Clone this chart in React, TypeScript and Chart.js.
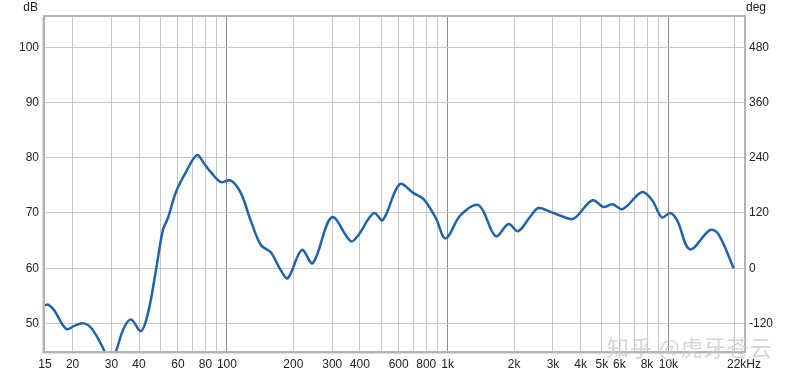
import React, { useEffect, useRef } from "react";
import { Chart, registerables } from "chart.js";

Chart.register(...registerables);

// Frequency response (Hz, dB)
const freqs = [15, 15.5, 16.5, 18.7, 20.5, 22.5, 24.5, 27.5, 29.5, 31.5, 34, 36.8, 40.8, 44, 47.7, 51.3, 54.1, 58.8, 65.2, 73.2, 78.7, 84.6, 93.9, 104, 115.7, 128, 142.5, 158, 175.6, 188.8, 218.5, 245, 298.7, 364, 391, 463, 508, 606, 700, 778, 883, 980, 1144, 1383, 1650, 1888, 2085, 2374, 2578, 2922, 3611, 3800, 4530, 5080, 5580, 6200, 7600, 8440, 9350, 10180, 10950, 12520, 15400, 16770, 19770];
const levels = [53.3, 53.4, 52.4, 49.0, 49.6, 50.0, 49.0, 45.5, 42.5, 45.0, 49.0, 50.7, 48.6, 52.0, 59.6, 66.9, 69.1, 73.8, 77.4, 80.5, 79.0, 77.4, 75.6, 75.9, 73.6, 68.7, 64.2, 62.9, 59.6, 58.2, 63.3, 60.9, 69.2, 64.9, 65.8, 70.0, 68.7, 75.2, 73.6, 72.5, 69.1, 65.4, 69.6, 71.4, 65.8, 68.0, 66.7, 69.4, 70.9, 70.2, 68.9, 69.2, 72.3, 71.1, 71.6, 70.7, 73.8, 72.3, 69.2, 70.0, 68.7, 63.4, 66.9, 66.3, 60.0];

const xTickValues = [15, 20, 30, 40, 50, 60, 70, 80, 90, 100, 200, 300, 400, 500, 600, 700, 800, 900, 1000, 2000, 3000, 4000, 5000, 6000, 7000, 8000, 9000, 10000, 20000, 22000];
const xTickLabels = ["15", "20", "30", "40", "", "60", "", "80", "", "100", "200", "300", "400", "", "600", "", "800", "", "1k", "2k", "3k", "4k", "5k", "6k", "", "8k", "", "10k", "", "22kHz"];
const majorFreqs = [100, 1000, 10000];
const dbTicks = [50, 60, 70, 80, 90, 100];
const degTicks = [-120, 0, 120, 240, 360, 480];

const DB_MIN = 45;
const DB_MAX = 105.5;
const toDeg = (db: number) => (db - 60) * 12;

const framePlugin = {
  id: "frame",
  afterDraw(chart: any) {
    const { ctx, chartArea } = chart;
    const { left, right, top, bottom } = chartArea;
    ctx.save();
    ctx.strokeStyle = "#b4b4b4";
    ctx.lineWidth = 2;
    ctx.strokeRect(left - 1, top - 1, right - left + 2, bottom - top + 2);
    ctx.strokeStyle = "#dcdcdc";
    ctx.lineWidth = 1;
    ctx.beginPath();
    ctx.moveTo(left - 2.5, top);
    ctx.lineTo(left - 2.5, bottom + 2.5);
    ctx.lineTo(right, bottom + 2.5);
    ctx.stroke();
    ctx.fillStyle = "#222";
    ctx.font = "12px 'Liberation Sans', Arial, sans-serif";
    ctx.textBaseline = "middle";
    ctx.textAlign = "right";
    ctx.fillText("dB", 38, 8);
    ctx.textAlign = "left";
    ctx.fillText("deg", 746, 8);
    ctx.restore();
  },
};

export default function App() {
  const ref = useRef<HTMLCanvasElement | null>(null);
  useEffect(() => {
    if (!ref.current) return;
    const data = freqs.map((f, i) => ({ x: f, y: levels[i] }));
    const chart = new Chart(ref.current, {
      type: "line",
      data: {
        datasets: [
          {
            data,
            borderColor: "#1f63a8",
            borderWidth: 2.5,
            pointRadius: 0,
            tension: 0.35,
            fill: false,
            yAxisID: "y",
          },
        ],
      },
      options: {
        animation: false,
        responsive: false,
        maintainAspectRatio: false,
        layout: { padding: { top: 17, left: 0, right: 0, bottom: 0 } },
        plugins: { legend: { display: false }, tooltip: { enabled: false } },
        scales: {
          x: {
            type: "logarithmic",
            min: 15,
            max: 22000,
            afterBuildTicks: (axis: any) => {
              axis.ticks = xTickValues.map((v) => ({ value: v }));
            },
            afterFit: (axis: any) => {
              axis.height = 26;
            },
            border: { display: false },
            grid: {
              color: (c: any) => {
                const v = c.tick ? c.tick.value : 0;
                if (v === 15 || v === 22000) return "rgba(0,0,0,0)";
                return majorFreqs.includes(v) ? "#8c8c8c" : "#c8c8c8";
              },
              lineWidth: 1,
              drawTicks: false,
            },
            ticks: {
              autoSkip: false,
              maxRotation: 0,
              minRotation: 0,
              padding: 6,
              color: "#222",
              font: { family: "'Liberation Sans', Arial, sans-serif", size: 12 },
              callback: (_v: any, i: number) => xTickLabels[i] ?? "",
            },
          },
          y: {
            position: "left",
            min: DB_MIN,
            max: DB_MAX,
            afterBuildTicks: (axis: any) => {
              axis.ticks = dbTicks.map((v) => ({ value: v }));
            },
            afterFit: (axis: any) => {
              axis.width = 45;
            },
            border: { display: false },
            grid: { color: "#c8c8c8", lineWidth: 1, drawTicks: false },
            ticks: {
              padding: 6,
              color: "#222",
              font: { family: "'Liberation Sans', Arial, sans-serif", size: 12 },
            },
          },
          y2: {
            position: "right",
            min: toDeg(DB_MIN),
            max: toDeg(DB_MAX),
            afterBuildTicks: (axis: any) => {
              axis.ticks = degTicks.map((v) => ({ value: v }));
            },
            afterFit: (axis: any) => {
              axis.width = 56;
            },
            border: { display: false },
            grid: { display: false, drawTicks: false },
            ticks: {
              padding: 5,
              color: "#222",
              font: { family: "'Liberation Sans', Arial, sans-serif", size: 12 },
            },
          },
        },
      },
      plugins: [framePlugin],
    });
    return () => chart.destroy();
  }, []);
  return (
    <div style={{ position: "fixed", left: 0, top: 0, width: 800, height: 377, background: "#fff" }}>
      <canvas ref={ref} width={800} height={377} style={{ display: "block" }} />
      <div
        style={{
          position: "absolute",
          left: 607,
          top: 330,
          fontFamily: "'Noto Sans CJK SC', sans-serif",
          fontSize: 22,
          color: "rgba(200,200,200,0.75)",
          whiteSpace: "nowrap",
          letterSpacing: 1,
        }}
      >
        知乎 @虎牙苍云
      </div>
    </div>
  );
}
